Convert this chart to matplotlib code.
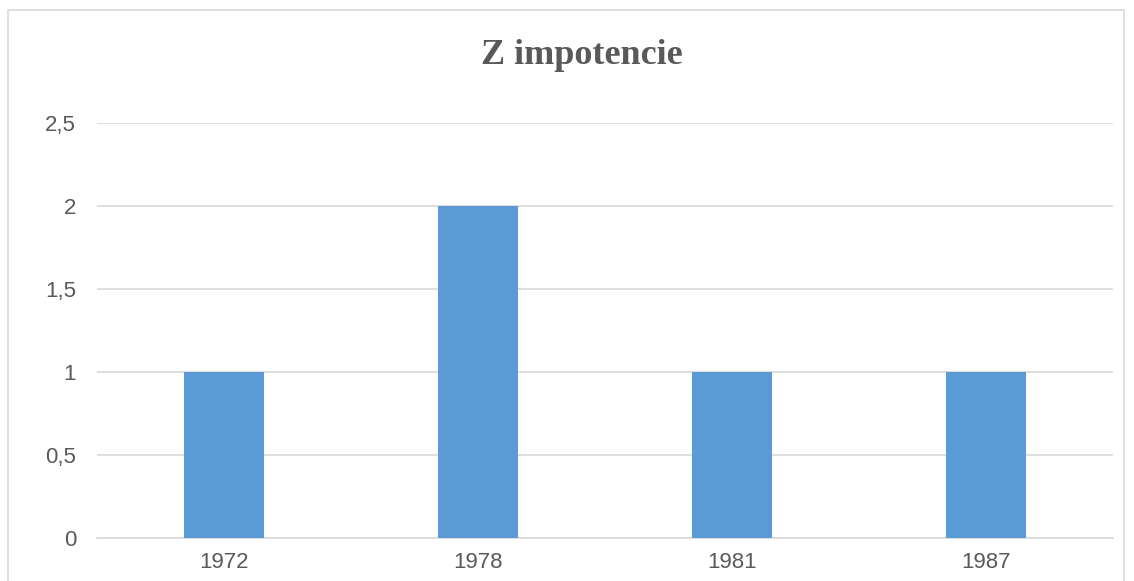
import matplotlib.pyplot as plt
from matplotlib.patches import Rectangle

years = ['1972', '1978', '1981', '1987']
counts = [1, 2, 1, 1]
yticks = [0, 0.5, 1, 1.5, 2, 2.5]
ytick_labels = ['0', '0,5', '1', '1,5', '2', '2,5']

BAR = '#5B9BD5'
GRID = '#D9D9D9'
TXT = '#595959'

W, H = 1134, 581
fig = plt.figure(figsize=(W / 100, H / 100), dpi=100)
ax = fig.add_axes([97 / W, 1 - 538 / H, (1113 - 97) / W, (538 - 123) / H])

x = list(range(len(years)))
ax.bar(x, counts, width=0.315, color=BAR, zorder=3)
ax.set_xlim(-0.5, len(years) - 0.5)
ax.set_ylim(0, 2.5)
ax.set_xticks(x)
ax.set_xticklabels(years)
ax.set_yticks(yticks)
ax.set_yticklabels(ytick_labels)
ax.grid(axis='y', color=GRID, lw=1.2, zorder=0)
for s in ['top', 'right', 'left']:
    ax.spines[s].set_visible(False)
ax.spines['bottom'].set_color(GRID)
ax.spines['bottom'].set_linewidth(1.2)
ax.tick_params(axis='both', length=0, labelsize=16, labelcolor=TXT)
ax.tick_params(axis='y', pad=15)
ax.tick_params(axis='x', pad=10)
for lab in ax.get_xticklabels() + ax.get_yticklabels():
    lab.set_family('Liberation Sans')

fig.text(582 / W, 1 - 55 / H, 'Z impotencie', ha='center', va='center',
         fontsize=26, fontweight='bold', color=TXT, family='Liberation Serif')

# chart area border
fig.patches.append(Rectangle((8 / W, -0.02), (1124 - 8) / W, 1 - 10 / H + 0.02,
                             transform=fig.transFigure, fill=False,
                             edgecolor=GRID, lw=1.2))

fig.savefig('out.png', dpi=100)
